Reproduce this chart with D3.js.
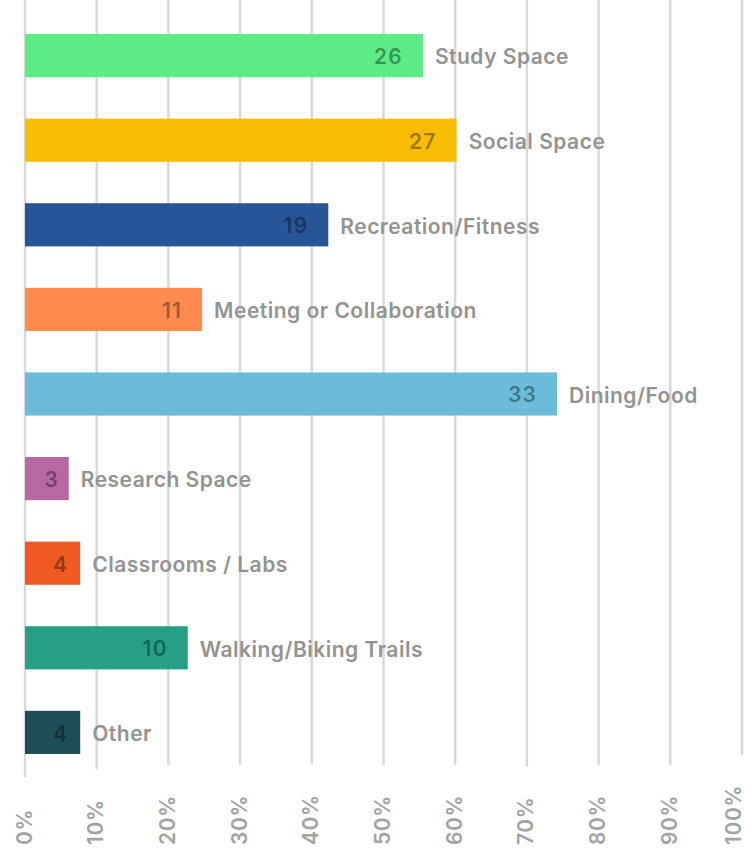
<!DOCTYPE html>
<html>
<head>
<meta charset="utf-8">
<script src="https://cdn.jsdelivr.net/npm/d3@7"></script>
<style>
  body { margin: 0; background: #fff; }
  #chart { width: 745px; height: 852px; }
</style>
</head>
<body>
<div id="chart"></div>
<script>
	// categories, counts shown on the bars, and bar length in percent
	var categories = ["Study Space", "Social Space", "Recreation/Fitness", "Meeting or Collaboration", "Dining/Food", "Research Space", "Classrooms / Labs", "Walking/Biking Trails", "Other"];
	var counts = [26, 27, 19, 11, 33, 3, 4, 10, 4];
	var percents = [55.5, 60.2, 42.3, 24.7, 74.2, 6.1, 7.7, 22.7, 7.7];
	var colors = ["#5BEC85", "#F8BD00", "#275596", "#FF8C4F", "#6BBCDA", "#B767A1", "#F15A22", "#279E86", "#1E4D58"];
	var ticks = [0, 10, 20, 30, 40, 50, 60, 70, 80, 90, 100];

	var data = categories.map(function(c, i){
		return {name: c, count: counts[i], pct: percents[i], color: colors[i]}
	})

	var svg_width = 745
	var svg_height = 852
	var font = "Inter, 'Open Sans', sans-serif"

	var svg = d3.select("#chart").append("svg").attr("width", svg_width).attr("height", svg_height)

	var x = d3.scaleLinear().domain([0, 100]).range([25, 742])
	var y = d3.scaleBand().domain(categories).range([13.3, 774.7]).paddingInner(0.49).paddingOuter(0.245)

	var grid = svg.append("g")
	var tickG = svg.append("g")

	// tick labels, rotated; the last one is kept inside the page
	var tickText = tickG.selectAll("text").data(ticks).enter().append("text")
		.attr("transform", function(d){ return "translate(" + Math.min(x(d) - 1, svg_width - 12) + ",845) rotate(-90)" })
		.attr("dy", "0.36em")
		.text(function(d){ return d + "%" })
		.style("font-size", "21px")
		.style("font-weight", "600")
		.style("letter-spacing", "0.6px")
		.style("font-family", font)
		.style("fill", "#a3a3a3")

	// grid lines stop a little above their label
	tickText.each(function(d){
		var top = 845 - this.getComputedTextLength()
		grid.append("line")
			.attr("x1", x(d))
			.attr("x2", x(d))
			.attr("y1", 0)
			.attr("y2", Math.min(777, top - 30))
			.attr("stroke", "#d9d9d9")
			.attr("stroke-width", 2.5)
	})

	var rows = svg.append("g").selectAll("g").data(data).enter().append("g")

	rows.append("rect")
		.attr("x", x(0))
		.attr("y", function(d){ return y(d.name) })
		.attr("width", function(d){ return x(d.pct) - x(0) })
		.attr("height", y.bandwidth())
		.attr("fill", function(d){ return d.color })

	// count inside the bar
	rows.append("text")
		.attr("x", function(d){
			var w = x(d.pct) - x(0)
			return x(d.pct) - Math.min(20, w * 0.22)
		})
		.attr("y", function(d){ return y(d.name) + y.bandwidth()/2 })
		.attr("dy", "0.4em")
		.attr("text-anchor", "end")
		.text(function(d){ return d.count })
		.style("font-size", "21px")
		.style("font-weight", "600")
		.style("letter-spacing", "1.2px")
		.style("font-family", font)
		.style("fill", "#000")
		.style("fill-opacity", 0.38)

	// category name after the bar
	rows.append("text")
		.attr("x", function(d){ return x(d.pct) + 12 })
		.attr("y", function(d){ return y(d.name) + y.bandwidth()/2 })
		.attr("dy", "0.42em")
		.text(function(d){ return d.name })
		.style("font-size", "21px")
		.style("font-weight", "600")
		.style("letter-spacing", "0.5px")
		.style("font-family", font)
		.style("fill", "#939393")
</script>
</body>
</html>
